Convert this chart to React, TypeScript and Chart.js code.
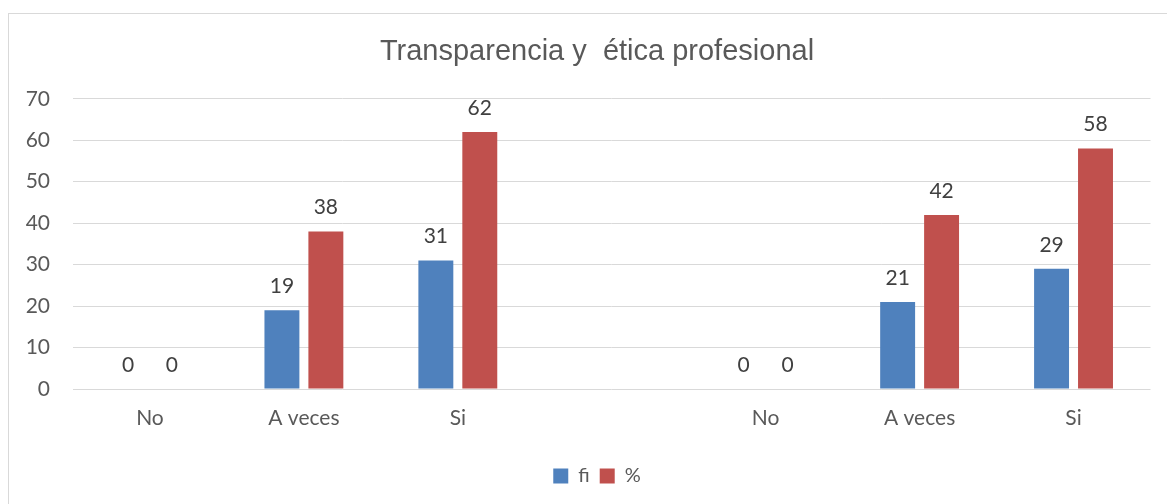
import React, { useEffect, useRef } from "react";
import { Chart, registerables } from "chart.js";

Chart.register(...registerables);

const categories = ["No", "A veces", "Si", "", "No", "A veces", "Si"];
const fiValues = [0, 19, 31, null, 0, 21, 29];
const pctValues = [0, 38, 62, null, 0, 42, 58];
const seriesNames = ["fi", "%"];
const chartTitle = "Transparencia y  ética profesional";

const FONT = "Lato, 'Open Sans', sans-serif";

const valueLabels = {
  id: "valueLabels",
  afterDatasetsDraw(chart: any) {
    const ctx = chart.ctx;
    ctx.save();
    ctx.font = `21px ${FONT}`;
    ctx.fillStyle = "#404040";
    ctx.textAlign = "center";
    ctx.textBaseline = "middle";
    chart.data.datasets.forEach((ds: any, di: number) => {
      const meta = chart.getDatasetMeta(di);
      meta.data.forEach((el: any, i: number) => {
        const v = ds.data[i];
        if (v === null || v === undefined) return;
        ctx.fillText(String(v), el.x, el.y - 24);
      });
    });
    ctx.restore();
  },
};

export default function App() {
  const ref = useRef<HTMLCanvasElement | null>(null);
  useEffect(() => {
    if (!ref.current) return;
    const chart = new Chart(ref.current, {
      type: "bar",
      data: {
        labels: categories,
        datasets: [
          {
            label: seriesNames[0],
            data: fiValues,
            backgroundColor: "#4F81BD",
            categoryPercentage: 0.571,
            barPercentage: 0.795,
          },
          {
            label: seriesNames[1],
            data: pctValues,
            backgroundColor: "#C0504D",
            categoryPercentage: 0.571,
            barPercentage: 0.795,
          },
        ],
      },
      options: {
        animation: false,
        responsive: false,
        maintainAspectRatio: false,
        layout: { padding: { left: 0, right: 0, top: 0, bottom: 8 } },
        plugins: {
          title: {
            display: true,
            text: chartTitle,
            color: "#595959",
            font: { family: "'Liberation Sans', Arial, sans-serif", size: 29, weight: "normal" },
            padding: { top: 21, bottom: 29 },
          },
          legend: {
            display: true,
            position: "bottom",
            labels: {
              color: "#595959",
              font: { family: FONT, size: 20 },
              boxWidth: 15,
              boxHeight: 15,
              padding: 10,
            },
          },
          tooltip: { enabled: false },
        },
        scales: {
          x: {
            grid: { display: false, drawTicks: false },
            border: { display: false },
            ticks: {
              color: "#595959",
              font: { family: FONT, size: 21 },
              padding: 17,
              maxRotation: 0,
              autoSkip: false,
            },
            afterFit: (s: any) => {
              s.height = 67;
            },
          },
          y: {
            min: 0,
            max: 70,
            grid: { color: "#d9d9d9", lineWidth: 1, drawTicks: false },
            border: { display: false },
            ticks: {
              stepSize: 10,
              color: "#595959",
              font: { family: FONT, size: 21 },
              padding: 23,
            },
            afterFit: (s: any) => {
              s.width = 64;
            },
          },
          yRight: {
            position: "right",
            min: 0,
            max: 70,
            grid: { display: false, drawTicks: false },
            border: { display: false },
            ticks: { display: false },
            afterFit: (s: any) => {
              s.width = 34.5;
            },
          },
        },
      },
      plugins: [valueLabels],
    });
    return () => chart.destroy();
  }, []);

  return (
    <div
      style={{
        position: "absolute",
        left: 8,
        top: 13,
        width: 1159,
        height: 491,
        boxSizing: "border-box",
        borderTop: "1px solid #d9d9d9",
        borderLeft: "1px solid #d9d9d9",
        background: "#fff",
        overflow: "hidden",
      }}
    >
      <canvas ref={ref} width={1176} height={490} style={{ display: "block" }} />
    </div>
  );
}
